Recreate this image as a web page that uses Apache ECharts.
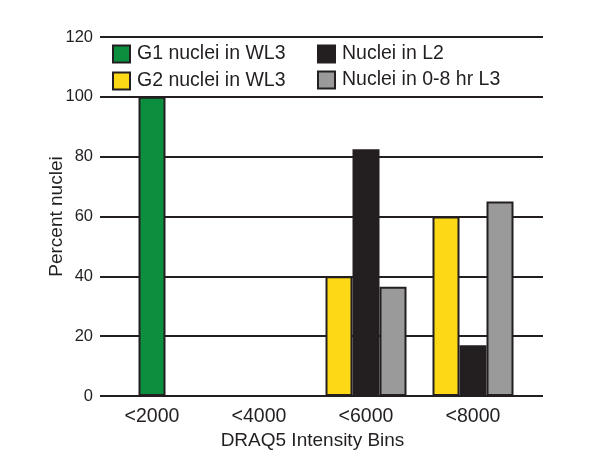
<!DOCTYPE html>
<html>
<head>
<meta charset="utf-8">
<script src="https://cdn.jsdelivr.net/npm/echarts@6/dist/echarts.min.js"></script>
<style>
  html, body { margin: 0; padding: 0; background: #fff; }
  #chart { width: 607px; height: 474px; }
</style>
</head>
<body>
<div id="chart"></div>
<script>
// bins on the x axis
const categories = ["<2000", "<4000", "<6000", "<8000"];
const yTicks = [0, 20, 40, 60, 80, 100, 120];

// percent of nuclei per bin
const g1WL3 = [100, null, null, null];
const g2WL3 = [null, null, 40, 60];
const nucleiL2 = [null, null, 82.5, 17];
const nuclei08L3 = [null, null, 36.5, 65];

const ink = "#231f20";
const font = 'Arial, "Liberation Sans", sans-serif';

let myChart = echarts.init(document.getElementById("chart"));

function barSeries(name, data, color, stack) {
  return {
    name: name,
    type: "bar",
    xAxisIndex: 1,
    yAxisIndex: 1,
    stack: stack,
    data: data,
    barWidth: 27,
    barGap: "0%",
    itemStyle: { color: color, borderColor: ink, borderWidth: 2 }
  };
}

let config = {
  backgroundColor: "#fff",
  animation: false,
  textStyle: { fontFamily: font, color: ink },
  legend: [
    {
      data: ["G1 nuclei in WL3", "G2 nuclei in WL3"],
      orient: "vertical",
      left: 112,
      top: 44,
      padding: 0,
      itemGap: 7,
      itemWidth: 17,
      itemHeight: 17,
      icon: "rect",
      textStyle: { fontSize: 19.5, color: ink, fontFamily: font, padding: [0, 0, 0, 2] }
    },
    {
      data: ["Nuclei in L2", "Nuclei in 0-8 hr L3"],
      orient: "vertical",
      left: 317,
      top: 44,
      padding: 0,
      itemGap: 6,
      itemWidth: 17,
      itemHeight: 17,
      icon: "rect",
      textStyle: { fontSize: 19.5, color: ink, fontFamily: font, padding: [0, 0, 0, 2] }
    }
  ],
  grid: [
    { left: 100, right: 64, top: 37, bottom: 78 },
    { left: 98.5, right: 80.5, top: 37, bottom: 78 }
  ],
  xAxis: [
    { gridIndex: 0, type: "category", data: categories, show: false },
    {
      gridIndex: 1,
      type: "category",
      data: categories,
      axisLine: { show: false },
      axisTick: { show: false },
      axisLabel: { fontSize: 19.5, color: ink, margin: 11, fontFamily: font },
      name: "DRAQ5 Intensity Bins",
      nameLocation: "middle",
      nameGap: 35,
      nameMoveOverlap: false,
      nameTextStyle: { fontSize: 19, color: ink, fontFamily: font }
    }
  ],
  yAxis: [
    {
      gridIndex: 0,
      type: "value",
      min: yTicks[0],
      max: yTicks[yTicks.length - 1],
      interval: yTicks[1] - yTicks[0],
      axisLine: { show: false },
      axisTick: { show: false },
      axisLabel: { fontSize: 16.5, color: ink, margin: 7, fontFamily: font },
      splitLine: { lineStyle: { color: ink, width: 2 } },
      name: "Percent nuclei",
      nameLocation: "middle",
      nameGap: 34,
      nameMoveOverlap: false,
      nameTextStyle: { fontSize: 19, color: ink, fontFamily: font }
    },
    {
      gridIndex: 1,
      type: "value",
      min: yTicks[0],
      max: yTicks[yTicks.length - 1],
      show: false,
      splitLine: { show: false }
    }
  ],
  series: [
    barSeries("G2 nuclei in WL3", g2WL3, "#fcd817", "left"),
    barSeries("G1 nuclei in WL3", g1WL3, "#0b8f3f", "mid"),
    barSeries("Nuclei in L2", nucleiL2, ink, "mid"),
    barSeries("Nuclei in 0-8 hr L3", nuclei08L3, "#9a9a9a", "right")
  ]
};

myChart.setOption(config);
</script>
</body>
</html>
